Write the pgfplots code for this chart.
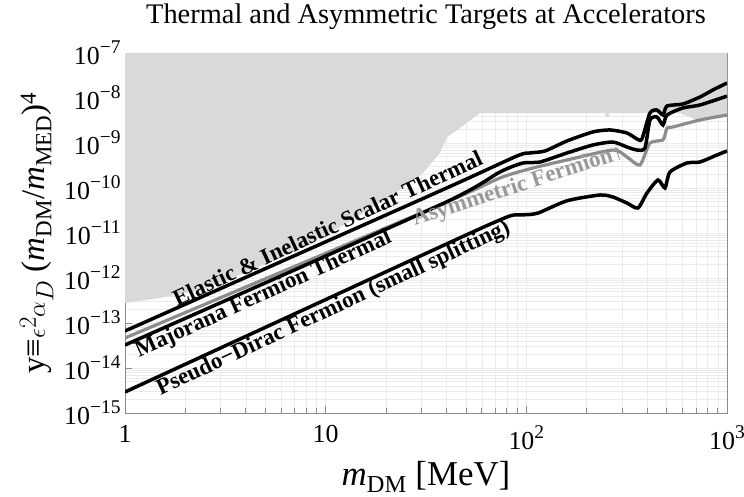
\documentclass[border=0pt]{standalone}
\usepackage{fontspec}
\setmainfont{Liberation Serif}
\usepackage{pgfplots}
\pgfplotsset{compat=1.18}

\definecolor{excl}{gray}{0.85}
\definecolor{asym}{gray}{0.55}
\definecolor{asymlbl}{gray}{0.6}
\definecolor{gridc}{gray}{0.92}
\definecolor{framec}{gray}{0.55}

\newcommand\tp[1]{10\raisebox{0.42em}{\fontsize{19.5}{21}\selectfont #1}}

\pgfplotsset{
  layers/mylayers/.define layer set={
    axis background,axis grid,main,axis ticks,axis lines,
    axis tick labels,axis descriptions,axis foreground}{},
}

\begin{document}
\begin{tikzpicture}
\begin{axis}[
  name=ax,
  set layers=mylayers,
  width=602bp, height=360bp, scale only axis,
  xmode=log, ymode=log,
  xmin=1, xmax=1000, ymin=1e-15, ymax=1e-7,
  xtick={1,10,100,1000},
  xticklabels={1,10,\tp{2},\tp{3}},
  ytick={1e-15,1e-14,1e-13,1e-12,1e-11,1e-10,1e-9,1e-8,1e-7},
  yticklabels={\tp{−15},\tp{−14},\tp{−13},\tp{−12},\tp{−11},\tp{−10},\tp{−9},\tp{−8},\tp{−7}},
  minor xtick={2,3,4,5,6,7,8,9,20,30,40,50,60,70,80,90,200,300,400,500,600,700,800,900},
  minor ytick={2e-15,3e-15,4e-15,5e-15,6e-15,7e-15,8e-15,9e-15,
               2e-14,3e-14,4e-14,5e-14,6e-14,7e-14,8e-14,9e-14,
               2e-13,3e-13,4e-13,5e-13,6e-13,7e-13,8e-13,9e-13,
               2e-12,3e-12,4e-12,5e-12,6e-12,7e-12,8e-12,9e-12,
               2e-11,3e-11,4e-11,5e-11,6e-11,7e-11,8e-11,9e-11,
               2e-10,3e-10,4e-10,5e-10,6e-10,7e-10,8e-10,9e-10,
               2e-9,3e-9,4e-9,5e-9,6e-9,7e-9,8e-9,9e-9,
               2e-8,3e-8,4e-8,5e-8,6e-8,7e-8,8e-8,9e-8},
  grid=both,
  major grid style={gridc, line width=0.5bp},
  minor grid style={gridc, line width=0.5bp},
  axis line style={framec, line width=0.8bp},
  tick style={framec, line width=0.8bp},
  minor y tick style={draw=none},
  tick align=inside,
  tick pos=left,
  major tick length=7bp, minor tick length=5bp,
  tick label style={font=\fontsize{26}{30}\selectfont},
  xticklabel style={yshift=-9bp},
  yticklabel style={xshift=-1bp},
  title={Thermal and Asymmetric Targets at Accelerators},
  title style={font=\fontsize{28.5}{32}\selectfont, at={(axis description cs:0.5,1.064)}, anchor=base},
  xlabel={\textit{m}\textsubscript{DM} [MeV]},
  xlabel style={font=\fontsize{35}{40}\selectfont, at={(axis description cs:0.5,-0.2)}, anchor=base},
  ylabel={y≡$\epsilon^2\alpha_D$ (\textit{m}\textsubscript{DM}/\textit{m}\textsubscript{MED})\textsuperscript{4}},
  ylabel style={font=\fontsize{33}{38}\selectfont, at={(axis description cs:-0.133,0.5)}, anchor=base},
]

% excluded region
\addplot[draw=none, fill=excl] coordinates {
  (1,2.78e-13) (1.49,3.6e-13) (2.36,5.4e-13) (3.74,1.17e-12) (6.64,3.6e-12)
  (11.8,1.36e-11) (20.9,6.3e-11) (30.5,2.15e-10) (37.1,6.0e-10) (40.2,1.36e-9)
  (46.7,2.15e-9) (58.7,4.64e-9) (246.3,4.64e-9) (249.3,3.78e-9) (258,3.78e-9)
  (260,4.64e-9) (582,4.64e-9) (631,4.0e-9) (700,3.3e-9) (732.8,3.3e-9)
  (850,3.7e-9) (1000,4.19e-9) (1000,1e-7) (1,1e-7)
} -- cycle;

% elastic & inelastic scalar thermal
\addplot[black, line width=3.5bp, smooth, tension=0.4] coordinates {
  (1,6.64e-14) (37.1,8.58e-11) (89.8,5.14e-10) (104.2,6.0e-10) (123.8,6.64e-10)
  (159.4,1.11e-9) (214.6,1.76e-9) (260.9,1.95e-9) (317.1,1.67e-9) (355.8,1.23e-9)
  (376.8,1.23e-9) (413,4.64e-9) (447.7,5.41e-9) (479.6,4.19e-9) (502.3,6.64e-9)
  (603,7.36e-9) (732.8,1.05e-8) (850.6,1.51e-8) (1000,2.15e-8)
};

% asymmetric fermion
\addplot[asym, line width=3.2bp, smooth, tension=0.4] coordinates {
  (1,4.64e-14) (37.1,4.19e-11) (73.9,1.67e-10) (107.9,2.78e-10) (159.4,4.19e-10)
  (270,6.99e-10) (317.1,4.89e-10) (368.3,3.24e-10) (413,1.0e-9) (479.6,1.17e-9)
  (502.3,2.15e-9) (537.5,2.27e-9) (732.8,3.24e-9) (1000,4.19e-9)
};

% majorana fermion thermal
\addplot[black, line width=3.5bp, smooth, tension=0.4] coordinates {
  (1,3.24e-14) (37.1,4.19e-11) (73.9,2.27e-10) (96.2,3.59e-10) (116.9,3.78e-10)
  (159.4,6.0e-10) (214.6,9.03e-10) (270,1.05e-9) (317.1,8.15e-10) (355.8,6.99e-10)
  (390,7.74e-10) (413,3.24e-9) (447.7,3.78e-9) (479.6,2.51e-9) (502.3,4.19e-9)
  (603,6.0e-9) (732.8,6.99e-9) (1000,1.1e-8)
};

% pseudo-Dirac fermion
\addplot[black, line width=3.5bp, smooth, tension=0.4] coordinates {
  (1,2.93e-15) (40,5.7e-12) (73.9,1.95e-11) (86,2.5e-11) (100,2.55e-11)
  (115,2.8e-11) (159.4,5.2e-11)
  (232.6,6.99e-11) (270,6.31e-11) (317.1,4.64e-11) (359.9,3.59e-11) (399.2,7.74e-11)
  (452.9,1.51e-10) (490.8,1.0e-10) (519.8,2.27e-10) (631,3.59e-10) (732.8,3.78e-10)
  (890.6,5.41e-10) (1000,6.64e-10)
};

\node[rotate=25, anchor=base, font=\bfseries\fontsize{23}{26}\selectfont]
  at (axis cs:10.6,9.0e-12) {Elastic \& Inelastic Scalar Thermal};
\node[rotate=24.5, anchor=base, font=\bfseries\fontsize{23}{26}\selectfont]
  at (axis cs:5.04,3.25e-13) {Majorana Fermion Thermal};
\node[rotate=25, anchor=base, font=\bfseries\fontsize{23}{26}\selectfont]
  at (axis cs:11.25,1.6e-13) {Pseudo−Dirac Fermion (small splitting)};
\node[rotate=18, anchor=base, text=asymlbl, font=\bfseries\fontsize{23}{26}\selectfont]
  at (axis cs:93,8.2e-11) {Asymmetric Fermion↑};

\end{axis}
\pgfresetboundingbox
\path[use as bounding box] ([shift={(-125bp,-84bp)}]ax.south west) rectangle ([shift={(17bp,53bp)}]ax.north east);
\end{tikzpicture}
\end{document}
